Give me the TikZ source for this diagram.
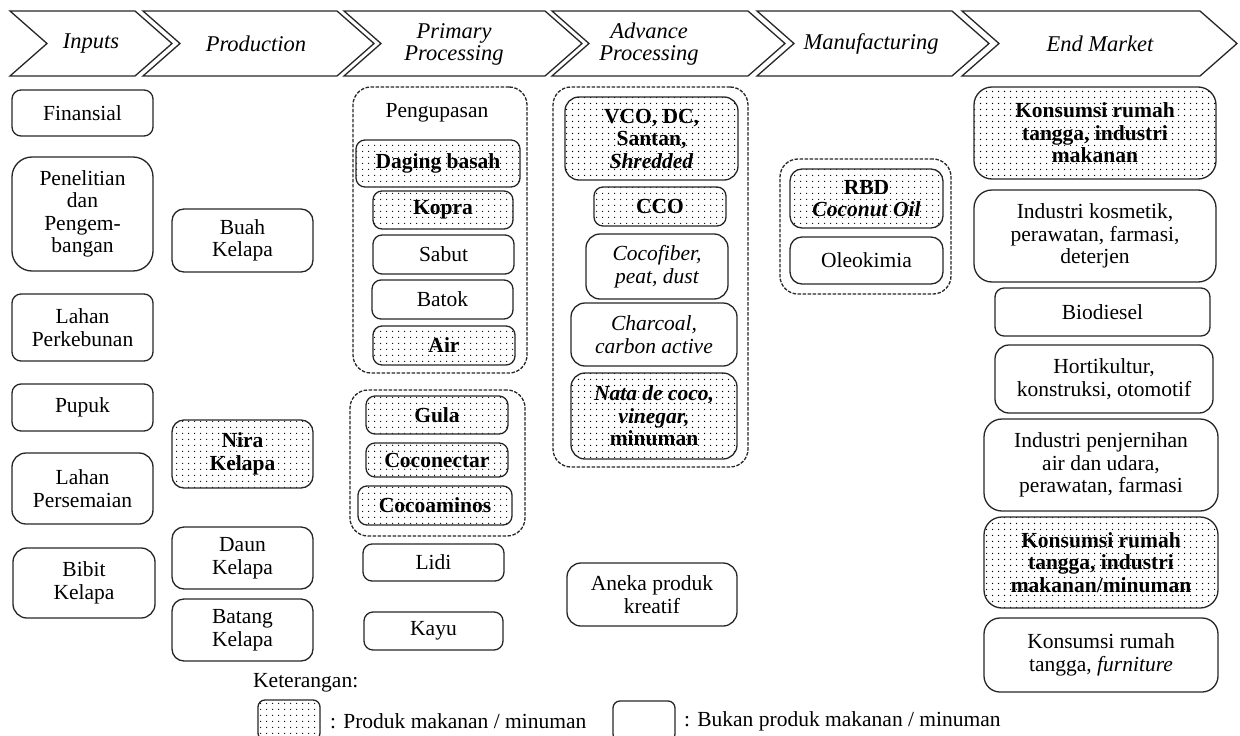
\documentclass[tikz,border=0pt]{standalone}
\usepackage{fontspec}
\setmainfont{Liberation Serif}
\usepackage{tikz}
\usetikzlibrary{patterns}
\pgfdeclarepatternformonly{sparsedots}{\pgfpointorigin}{\pgfpoint{6pt}{6pt}}{\pgfpoint{6pt}{6pt}}%
  {\pgfpathcircle{\pgfpoint{3pt}{3pt}}{0.8pt}\pgfusepath{fill}}
\newcommand{\bodyfont}{\fontsize{21.5}{22.5}\selectfont}
\tikzset{
  stage/.style={draw=black!85, line width=1.3pt, line join=miter},
  stagetext/.style={align=center, font=\fontsize{22.5}{22}\selectfont\itshape},
  box/.style={draw=black!85, line width=1.3pt, rounded corners=9pt, align=center, inner sep=0pt, font=\bodyfont},
  food/.style={box, pattern=sparsedots, font=\bodyfont\bfseries},
  group/.style={draw=black!85, line width=1.3pt, dash pattern=on 3.5pt off 1.5pt, rounded corners=18pt, inner sep=0pt},
}

\begin{document}
\begin{tikzpicture}[x=1pt,y=-1pt]
        \useasboundingbox (0,0) rectangle (1240,736);

        % Stages
        \foreach \l/\r in {10/135, 143/337, 344/545, 552/748, 757/952, 962/1200}
          \draw[stage] (\l,11) -- (\r,11) -- (\r+37,43.5) -- (\r,76) -- (\l,76) -- (\l+37,43.5) -- cycle;
        \node[stagetext] (inputs) at (91,44) {Inputs};
        \node[stagetext] (production) at (256,44) {Production};
        \node[stagetext] (primary) at (454,44) {Primary\\Processing};
        \node[stagetext] (advance) at (649,44) {Advance\\Processing};
        \node[stagetext] (manufacturing) at (871,44) {Manufacturing};
        \node[stagetext] (endmarket) at (1100,44) {End Market};

        % Inputs
        \node[box, minimum width=141, minimum height=46] (finansial) at (82.5,113) {Finansial};
        \node[box, rounded corners=20pt, minimum width=141, minimum height=114] (litbang) at (82.5,214) {Penelitian\\dan\\Pengem-\\bangan};
        \node[box, minimum width=141, minimum height=67] (kebun) at (82.5,327.5) {Lahan\\Perkebunan};
        \node[box, minimum width=141, minimum height=47] (pupuk) at (82.5,407.5) {Pupuk};
        \node[box, rounded corners=14pt, minimum width=141, minimum height=71] (semai) at (82.5,488.5) {Lahan\\Persemaian};
        \node[box, rounded corners=14pt, minimum width=142, minimum height=70] (bibit) at (84,583) {Bibit\\Kelapa};

        % Production
        \node[box, rounded corners=12pt, minimum width=141, minimum height=63] (buah) at (242.5,240.5) {Buah\\Kelapa};
        \node[food, rounded corners=12pt, minimum width=141, minimum height=68] (nira) at (242.5,454) {Nira\\Kelapa};
        \node[box, rounded corners=12pt, minimum width=141, minimum height=62] (daun) at (242.5,558) {Daun\\Kelapa};
        \node[box, rounded corners=12pt, minimum width=141, minimum height=62] (batang) at (242.5,630) {Batang\\Kelapa};

        % Primary processing
        \node[group, minimum width=174, minimum height=286] (kupas) at (440,230) {};
        \node[font=\bodyfont] (pengupasan) at (437,113) {Pengupasan};
        \node[food, minimum width=164, minimum height=47] (daging) at (438,163.5) {Daging basah};
        \node[food, minimum width=140, minimum height=38] (kopra) at (443,210) {Kopra};
        \node[box, minimum width=141, minimum height=39] (sabut) at (443.5,254.5) {Sabut};
        \node[box, minimum width=141, minimum height=39] (batok) at (442.5,299.5) {Batok};
        \node[food, minimum width=142, minimum height=39] (air) at (444,345.5) {Air};
        \node[group, minimum width=175, minimum height=146] (niragrp) at (437.5,463) {};
        \node[food, minimum width=142, minimum height=38] (gula) at (437,415) {Gula};
        \node[food, minimum width=142, minimum height=34] (nectar) at (437,460) {Coconectar};
        \node[food, minimum width=154, minimum height=39] (amino) at (435,505.5) {Cocoaminos};
        \node[box, minimum width=141, minimum height=37] (lidi) at (433.5,562.5) {Lidi};
        \node[box, minimum width=139, minimum height=38] (kayu) at (433.5,631) {Kayu};

        % Advance processing
        \node[group, minimum width=195, minimum height=380] (lanjut) at (650.5,277) {};
        \node[food, rounded corners=14pt, minimum width=173, minimum height=83] (vco) at (651.5,138.5) {VCO, DC,\\Santan,\\\textit{Shredded}};
        \node[food, minimum width=132, minimum height=39] (cco) at (660,206.5) {CCO};
        \node[box, rounded corners=14pt, font=\bodyfont\itshape, minimum width=142, minimum height=65] (fiber) at (657,266.5) {Cocofiber,\\peat, dust};
        \node[box, rounded corners=14pt, font=\bodyfont\itshape, minimum width=166, minimum height=63] (arang) at (654,334.5) {Charcoal,\\carbon active};
        \node[food, rounded corners=14pt, minimum width=166, minimum height=86] (nata) at (654,416) {\textit{Nata de coco,}\\\textit{vinegar,}\\minuman};
        \node[box, rounded corners=14pt, minimum width=170, minimum height=63] (kreatif) at (652,594.5) {Aneka produk\\kreatif};

        % Manufacturing
        \node[group, minimum width=171, minimum height=135] (olah) at (865.5,226.5) {};
        \node[food, rounded corners=12pt, minimum width=153, minimum height=59] (rbd) at (866.5,198.5) {RBD\\\textit{Coconut Oil}};
        \node[box, rounded corners=12pt, minimum width=153, minimum height=47] (oleo) at (866.5,260.5) {Oleokimia};

        % End market
        \node[food, rounded corners=18pt, minimum width=242, minimum height=92] (pangan) at (1095,133) {Konsumsi rumah\\tangga, industri\\makanan};
        \node[box, rounded corners=18pt, minimum width=242, minimum height=92] (kosmetik) at (1095,236) {Industri kosmetik,\\perawatan, farmasi,\\deterjen};
        \node[box, minimum width=215, minimum height=48] (biodiesel) at (1102.5,312) {Biodiesel};
        \node[box, rounded corners=14pt, minimum width=218, minimum height=68] (hortik) at (1104,379) {Hortikultur,\\konstruksi, otomotif};
        \node[box, rounded corners=18pt, minimum width=234, minimum height=92] (jernih) at (1101,465) {Industri penjernihan\\air dan udara,\\perawatan, farmasi};
        \node[food, rounded corners=18pt, minimum width=234, minimum height=91] (minum) at (1101,562.5) {Konsumsi rumah\\tangga, industri\\makanan/minuman};
        \node[box, rounded corners=16pt, minimum width=234, minimum height=74] (mebel) at (1101,655) {Konsumsi rumah\\tangga, \textit{furniture}};

        % Keterangan
        \node[font=\bodyfont, anchor=west, inner sep=0pt] (ket) at (253,683) {Keterangan:};
        \node[food, rounded corners=7pt, minimum width=62, minimum height=40] (legfood) at (289,720) {};
        \node[font=\bodyfont, anchor=west, inner sep=0pt] (legfoodtxt) at (330,721) {: Produk makanan / minuman};
        \node[box, rounded corners=7pt, minimum width=62, minimum height=40] (legplain) at (644,721) {};
        \node[font=\bodyfont, anchor=west, inner sep=0pt] (legplaintxt) at (684,721) {: Bukan produk makanan / minuman};
\end{tikzpicture}
\end{document}
